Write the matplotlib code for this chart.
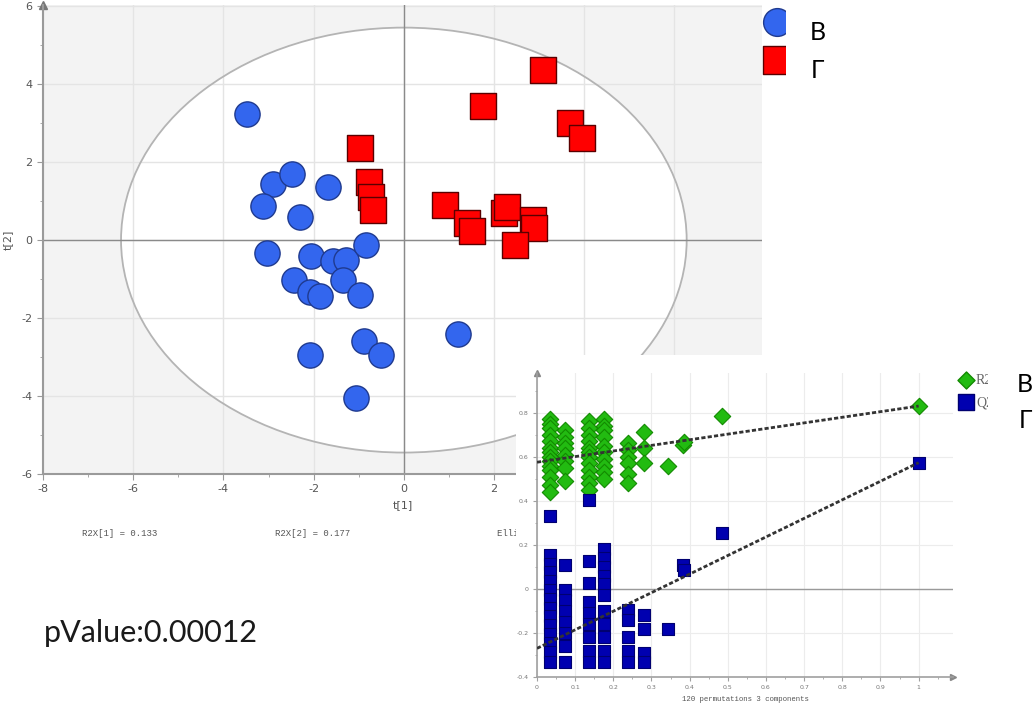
import matplotlib
matplotlib.use('Agg')
import matplotlib.pyplot as plt
from matplotlib.patches import Ellipse, Rectangle
from matplotlib.ticker import MultipleLocator

plt.rcParams['axes.unicode_minus'] = False

W, H = 1036, 708

# scores plot, group B (blue circles)
b_t1 = [-3.48, -2.90, -2.48, -3.13, -1.69, -2.31, -3.04, -2.06, -1.57, -1.29, -0.84,
        -2.44, -1.35, -2.08, -1.86, -0.98, -2.08, -0.89, -0.51, -1.06, 1.20]
b_t2 = [3.23, 1.44, 1.69, 0.87, 1.36, 0.59, -0.33, -0.41, -0.54, -0.51, -0.13,
        -1.03, -1.03, -1.33, -1.44, -1.41, -2.95, -2.59, -2.95, -4.05, -2.41]
# group G (red squares)
g_t1 = [-0.98, -0.78, -0.73, -0.69, 3.08, 1.75, 3.68, 3.95, 0.91, 1.40, 1.51,
        2.22, 2.28, 2.86, 2.88, 2.46]
g_t2 = [2.36, 1.49, 1.10, 0.77, 4.36, 3.44, 3.00, 2.62, 0.90, 0.44, 0.23,
        0.69, 0.85, 0.51, 0.31, -0.13]
ellipse_a, ellipse_b = 6.27, 5.45
r2x = [0.133, 0.177]
p_value = '0.00012'

# permutation test: R2 (green diamonds)
r2_x = ([0.034] * 14 + [0.073] * 8 + [0.136] * 12 + [0.175] * 10 + [0.239] * 6
        + [0.28] * 3 + [0.343, 0.382, 0.385, 0.484, 1.0])
r2_y = ([0.77, 0.75, 0.73, 0.70, 0.67, 0.64, 0.62, 0.60, 0.58, 0.56, 0.54, 0.51, 0.47, 0.44]
        + [0.72, 0.69, 0.66, 0.64, 0.61, 0.58, 0.55, 0.49]
        + [0.76, 0.73, 0.70, 0.67, 0.64, 0.62, 0.60, 0.57, 0.54, 0.51, 0.48, 0.45]
        + [0.77, 0.74, 0.72, 0.69, 0.65, 0.62, 0.59, 0.56, 0.53, 0.50]
        + [0.66, 0.63, 0.60, 0.57, 0.52, 0.48]
        + [0.71, 0.64, 0.57]
        + [0.556, 0.655, 0.665, 0.786, 0.83])
# Q2 (blue squares)
q2_x = ([0.034] * 14 + [0.073] * 8 + [0.136] * 9 + [0.175] * 11 + [0.239] * 5
        + [0.28] * 4 + [0.343, 0.382, 0.385, 0.484, 1.0])
q2_y = ([0.333, 0.155, 0.115, 0.075, 0.035, -0.005, -0.045, -0.085, -0.125, -0.165,
         -0.205, -0.245, -0.285, -0.33]
        + [0.11, -0.005, -0.05, -0.10, -0.15, -0.20, -0.26, -0.33]
        + [0.405, 0.125, 0.027, -0.06, -0.11, -0.16, -0.22, -0.28, -0.33]
        + [0.18, 0.14, 0.10, 0.06, 0.02, -0.03, -0.10, -0.16, -0.22, -0.28, -0.33]
        + [-0.095, -0.14, -0.22, -0.28, -0.33]
        + [-0.12, -0.18, -0.29, -0.33]
        + [-0.18, 0.11, 0.085, 0.255, 0.573])
r2_intercept, r2_end = 0.575, 0.83
q2_intercept, q2_end = -0.27, 0.573


def box(l, t, r, b):
    return [l / W, 1 - b / H, (r - l) / W, (b - t) / H]


fig = plt.figure(figsize=(W / 100, H / 100), dpi=100)

# ---- main scores plot
ax = fig.add_axes(box(43, 5, 762, 474), zorder=0)
ax.set_facecolor('#f3f3f3')
ax.set_xlim(-8, 7.94)
ax.set_ylim(-6, 6.03)
ax.add_patch(Ellipse((0, 0), 2 * ellipse_a, 2 * ellipse_b, facecolor='white',
                     edgecolor='none', zorder=0.2))
ax.add_patch(Ellipse((0, 0), 2 * ellipse_a, 2 * ellipse_b, facecolor='none',
                     edgecolor='#b4b4b4', lw=1.3, zorder=1))
ax.set_axisbelow(True)
ax.xaxis.set_major_locator(MultipleLocator(2))
ax.yaxis.set_major_locator(MultipleLocator(2))
ax.xaxis.set_minor_locator(MultipleLocator(1))
ax.yaxis.set_minor_locator(MultipleLocator(1))
ax.grid(True, which='major', color='#e4e4e4', lw=1)
ax.axhline(0, color='#8a8a8a', lw=1, zorder=1.5)
ax.axvline(0, color='#8a8a8a', lw=1, zorder=1.5)
for s in ['top', 'right']:
    ax.spines[s].set_visible(False)
for s in ['left', 'bottom']:
    ax.spines[s].set_color('#9a9a9a')
    ax.spines[s].set_linewidth(1.5)
ax.plot([0], [1], marker='^', color='#777777', ms=6, transform=ax.transAxes, clip_on=False)
ax.tick_params(which='both', colors='#9a9a9a', labelcolor='#555555', labelsize=8,
               direction='out')
ax.tick_params(which='major', length=4)
ax.tick_params(which='minor', length=2)
ax.scatter(b_t1, b_t2, s=330, marker='o', facecolor='#3366ee', edgecolor='#1f3a8f',
           lw=1, zorder=3)
ax.scatter(g_t1, g_t2, s=330, marker='s', facecolor='#ff0000', edgecolor='#5a0000',
           lw=1, zorder=3)
ax.set_xlabel('t[1]', fontsize=8, color='#555555', labelpad=4)
ax.set_ylabel('t[2]', fontsize=8, color='#555555', labelpad=6)

mono = 'Liberation Mono'
fig.text(82 / W, 1 - 533 / H, 'R2X[1] = %.3f' % r2x[0], family=mono, fontsize=6.5,
         color='#555555', va='center')
fig.text(275 / W, 1 - 533 / H, 'R2X[2] = %.3f' % r2x[1], family=mono, fontsize=6.5,
         color='#555555', va='center')
fig.text(497 / W, 1 - 533 / H, "Ellipse: Hotelling's T2 (95%)", family=mono, fontsize=6.5,
         color='#555555', va='center', zorder=0.5)
fig.text(44 / W, 1 - 633 / H, 'pValue:' + p_value, family='Lato', fontsize=22,
         color='#1a1a1a', va='center')

# main legend (cut off on the right)
lg = fig.add_axes(box(755, 0, 785, 90), zorder=3)
lg.set_xlim(755, 785)
lg.set_ylim(90, 0)
lg.axis('off')
lg.scatter([777], [22], s=400, marker='o', facecolor='#3366ee', edgecolor='#1f3a8f')
lg.scatter([777], [60], s=380, marker='s', facecolor='#ff0000', edgecolor='#5a0000')
fig.text(810 / W, 1 - 32 / H, 'В', family='Lato', fontsize=18, va='center')
fig.text(811 / W, 1 - 70 / H, 'Г', family='Lato', fontsize=18, va='center')

# white background of the pasted permutation plot
fig.add_artist(Rectangle((516 / W, 0), 1 - 516 / W, 1 - 355 / H,
                         transform=fig.transFigure, facecolor='white',
                         edgecolor='none', zorder=1))

# ---- permutation plot
ax2 = fig.add_axes(box(537, 373, 953, 677), zorder=2)
ax2.set_xlim(0, 1.09)
ax2.set_ylim(-0.4, 0.98)
ax2.set_axisbelow(True)
ax2.set_xticks([0, 0.1, 0.2, 0.3, 0.4, 0.5, 0.6, 0.7, 0.8, 0.9, 1])
ax2.set_xticklabels(['0', '0.1', '0.2', '0.3', '0.4', '0.5', '0.6', '0.7', '0.8', '0.9', '1'])
ax2.set_yticks([-0.4, -0.2, 0, 0.2, 0.4, 0.6, 0.8])
ax2.set_yticklabels(['-0.4', '-0.2', '0', '0.2', '0.4', '0.6', '0.8'])
ax2.xaxis.set_minor_locator(MultipleLocator(0.05))
ax2.yaxis.set_minor_locator(MultipleLocator(0.1))
ax2.grid(True, which='major', color='#ececec', lw=0.8)
ax2.axhline(0, color='#9a9a9a', lw=1, zorder=1)
for s in ['top', 'right']:
    ax2.spines[s].set_visible(False)
for s in ['left', 'bottom']:
    ax2.spines[s].set_color('#a0a0a0')
    ax2.spines[s].set_linewidth(1.2)
ax2.plot([0], [1], marker='^', color='#888888', ms=4, transform=ax2.transAxes, clip_on=False)
ax2.plot([1], [0], marker='>', color='#888888', ms=4, transform=ax2.transAxes, clip_on=False)
ax2.tick_params(which='both', colors='#a0a0a0', labelcolor='#777777', labelsize=4.5,
                direction='out')
ax2.tick_params(which='major', length=3, pad=3)
ax2.tick_params(which='minor', length=1.5)
ax2.scatter(r2_x, r2_y, s=70, marker='D', facecolor='#22bb11', edgecolor='#128a00',
            lw=0.8, zorder=3)
ax2.scatter(q2_x, q2_y, s=85, marker='s', facecolor='#0000b0', edgecolor='#000070',
            lw=0.8, zorder=3)
ax2.plot([0, 1], [r2_intercept, r2_end], color='#333333', lw=2, dashes=(1.5, 0.8), zorder=4)
ax2.plot([0, 1], [q2_intercept, q2_end], color='#333333', lw=2, dashes=(1.5, 0.8), zorder=4)
ax2.set_xlabel('120 permutations 3 components', family=mono, fontsize=5.3,
               color='#555555', labelpad=4)

# permutation legend (cut off on the right)
lg2 = fig.add_axes(box(955, 366, 988, 414), zorder=3)
lg2.set_xlim(955, 988)
lg2.set_ylim(414, 366)
lg2.axis('off')
lg2.scatter([966], [380], s=75, marker='D', facecolor='#22bb11', edgecolor='#128a00')
lg2.scatter([966], [402], s=130, marker='s', facecolor='#0000b0', edgecolor='#000070')
lg2.text(976, 381, 'R2', family='Liberation Serif', fontsize=10, color='#666666',
         va='center', clip_on=True)
lg2.text(976, 403, 'Q2', family='Liberation Serif', fontsize=10, color='#666666',
         va='center', clip_on=True)
fig.text(1017 / W, 1 - 384 / H, 'В', family='Lato', fontsize=18, va='center')
fig.text(1019 / W, 1 - 420 / H, 'Г', family='Lato', fontsize=18, va='center')

fig.savefig('out.png', dpi=100)
